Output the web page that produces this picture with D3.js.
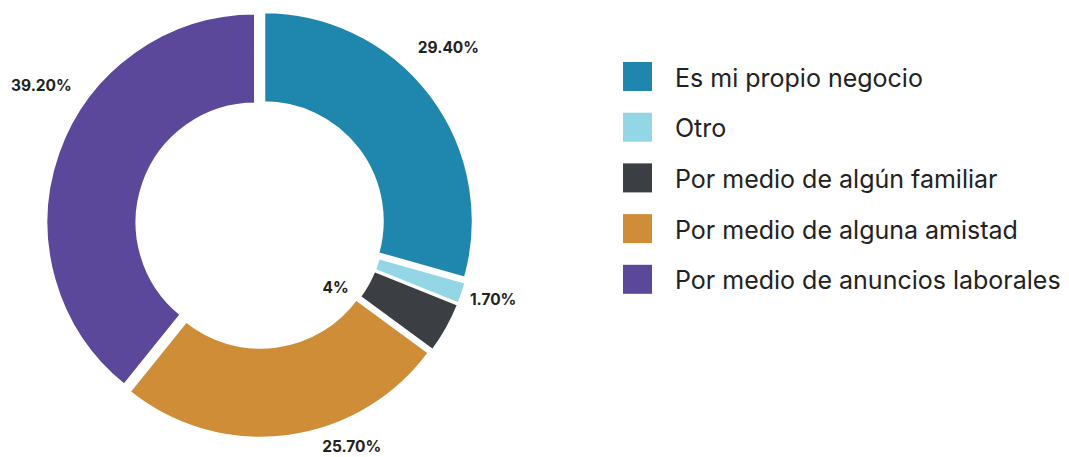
<!DOCTYPE html>
<html>
<head>
<meta charset="utf-8">
<script src="https://cdn.jsdelivr.net/npm/d3@7"></script>
<style>
  body { margin: 0; background: #fff; }
  text { font-family: Inter, Lato, sans-serif; fill: #222; }
</style>
</head>
<body>
<script>
// categories and shares (%)
var categories = ["Es mi propio negocio", "Otro", "Por medio de algún familiar", "Por medio de alguna amistad", "Por medio de anuncios laborales"];
var values = [29.4, 1.7, 4, 25.7, 39.2];
var labels = ["29.40%", "1.70%", "4%", "25.70%", "39.20%"];
var colors = ["#1f86ad", "#93d6e6", "#3b3f43", "#d08d37", "#5c489b"];

const width = 1069;
const height = 457;
const cx = 260, cy = 224;
const outerR = 209, innerR = 118.5;
const explode = 5;

var data = categories.map(function(c, i) {
  return { name: c, value: values[i], label: labels[i] };
});

const svg = d3.select("body")
  .append("svg")
  .attr("width", width)
  .attr("height", height);

const g = svg.append("g")
  .attr("transform", "translate(" + cx + "," + cy + ")");

var color = d3.scaleOrdinal().domain(categories).range(colors);

var pie = d3.pie().sort(null).value(function(d) { return d.value; });

const arc = d3.arc()
  .innerRadius(innerR)
  .outerRadius(outerR);

var arcs = pie(data);

// each slice pushed out a little along its bisector
g.selectAll("path")
  .data(arcs)
  .enter()
  .append("path")
  .attr("d", arc)
  .attr("fill", function(d) { return color(d.data.name); })
  .attr("stroke", "#fff")
  .attr("stroke-width", 2.5)
  .attr("transform", function(d) {
    var a = (d.startAngle + d.endAngle) / 2;
    return "translate(" + (Math.sin(a) * explode) + "," + (-Math.cos(a) * explode) + ")";
  });

// label angle nudges (degrees) and radius, to follow the source's layout
var nudge = [-6, -1, 11, -15, 13];
var labelR = [258, 245, 99, 241, 259];

g.selectAll(".lbl")
  .data(arcs)
  .enter()
  .append("text")
  .attr("class", "lbl")
  .attr("transform", function(d, i) {
    var a = (d.startAngle + d.endAngle) / 2 + nudge[i] * Math.PI / 180;
    return "translate(" + (Math.sin(a) * labelR[i]) + "," + (-Math.cos(a) * labelR[i]) + ")";
  })
  .attr("text-anchor", "middle")
  .attr("dy", "0.36em")
  .style("font-size", "15.5px")
  .style("font-weight", "bold")
  .text(function(d) { return d.data.label; });

// legend
const legend = svg.append("g")
  .attr("transform", "translate(623,62)");

var item = legend.selectAll(".item")
  .data(categories)
  .enter()
  .append("g")
  .attr("class", "item")
  .attr("transform", function(d, i) { return "translate(0," + (i * 50.7) + ")"; });

item.append("rect")
  .attr("width", 29)
  .attr("height", 29)
  .attr("fill", function(d) { return color(d); });

item.append("text")
  .attr("x", 52)
  .attr("y", 24.5)
  .style("font-size", "25px")
  .text(function(d) { return d; });
</script>
</body>
</html>
